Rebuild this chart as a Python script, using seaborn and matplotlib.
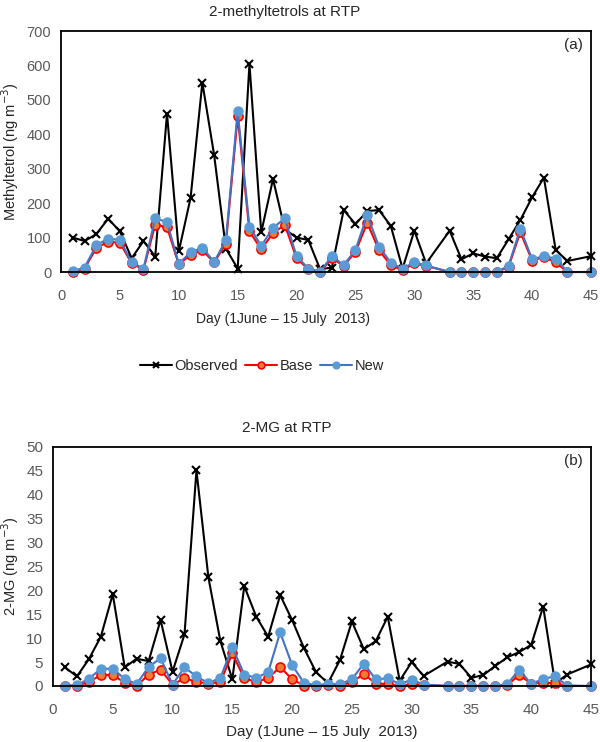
import matplotlib
matplotlib.use('Agg')
import matplotlib.pyplot as plt
import seaborn as sns

# days sampled (no data on day 32 and 44)
days = list(range(1, 32)) + list(range(33, 44)) + [45]

# 2-methyltetrols (ng m-3)
obs_a = [100, 90, 110, 155, 118, 40, 90, 45, 460, 60, 215, 550, 340, 68, 10, 605,
         115, 270, 124, 100, 93, 8, 13, 180, 139, 177, 180, 134, 10, 120, 25,
         120, 37, 54, 45, 40, 95, 151, 217, 274, 64, 32, 46]
base_a = [0, 10, 70, 88, 85, 25, 7, 138, 130, 22, 50, 63, 28, 82, 452, 118,
          66, 113, 137, 40, 8, 0, 40, 18, 58, 143, 63, 20, 5, 25, 18,
          0, 0, 0, 0, 0, 15, 116, 33, 44, 28, 0, 0]
new_a = [2, 13, 78, 97, 93, 28, 10, 156, 145, 24, 57, 71, 29, 93, 467, 131,
         76, 128, 156, 46, 10, 1, 46, 20, 64, 165, 74, 27, 10, 28, 19,
         0, 0, 0, 0, 0, 18, 126, 37, 46, 39, 0, 0]

# 2-MG (ng m-3)
obs_b = [3.9, 2.0, 5.6, 10.3, 19.2, 3.9, 5.7, 5.2, 13.8, 3.0, 10.8, 45.1, 22.7, 9.4, 1.4, 20.9,
         14.5, 10.3, 19.0, 13.8, 7.9, 2.9, 0.6, 5.4, 13.5, 7.7, 9.4, 14.5, 1.1, 5.0, 2.1,
         5.1, 4.6, 1.7, 2.3, 4.2, 6.0, 7.1, 8.6, 16.6, 0.5, 2.4, 4.5]
base_b = [0, 0.1, 0.8, 2.3, 2.3, 0.7, 0, 2.4, 3.4, 0.3, 1.6, 0.9, 0.5, 0.8, 6.8, 1.6,
          0.9, 1.6, 4.0, 1.4, 0.1, 0, 0.3, 0.1, 0.8, 2.5, 0.5, 0.4, 0, 0.4, 0.2,
          0, 0, 0, 0, 0, 0.2, 2.3, 0.5, 0.7, 0.6, 0, 0]
new_b = [0, 0.2, 1.5, 3.6, 3.6, 1.5, 0.4, 4.0, 5.8, 0.3, 3.9, 2.0, 0.6, 1.7, 8.1, 2.4,
         1.7, 2.9, 11.2, 4.4, 0.6, 0.2, 0.4, 0.4, 1.4, 4.7, 1.4, 1.6, 0.4, 1.3, 0.3,
         0, 0, 0, 0, 0, 0.4, 3.4, 0.4, 1.5, 2.0, 0.1, 0]

sns.set_style('white')
plt.rcParams['font.family'] = ['Liberation Sans', 'DejaVu Sans']

fig = plt.figure(figsize=(6, 7.42), dpi=100)
ax_a = fig.add_axes([0.1017, 0.6334, 0.8833, 0.3248])
ax_b = fig.add_axes([0.0883, 0.0755, 0.8967, 0.3221])


def draw(ax, obs, base, new, tick_size):
    sns.lineplot(x=days, y=obs, ax=ax, color='black', marker='x', markersize=6,
                 markeredgewidth=1.5, markeredgecolor='black', linewidth=1.5,
                 label='Observed', clip_on=False)
    sns.lineplot(x=days, y=base, ax=ax, color='#FF0000', marker='o', markersize=6.5,
                 markerfacecolor='#ED7D31', markeredgecolor='#FF0000', markeredgewidth=1.2,
                 linewidth=1.5, label='Base', clip_on=False)
    sns.lineplot(x=days, y=new, ax=ax, color='#4472C4', marker='o', markersize=6.5,
                 markerfacecolor='#5B9BD5', markeredgecolor='#5B9BD5', markeredgewidth=1.0,
                 linewidth=1.5, label='New', clip_on=False)
    ax.set_xlim(0, 45)
    ax.set_xticks(range(0, 46, 5))
    ax.tick_params(axis='both', length=0, labelsize=tick_size, labelcolor='#595959')
    ax.tick_params(axis='x', pad=12)
    ax.tick_params(axis='y', pad=7)
    for s in ax.spines.values():
        s.set_color('black')
        s.set_linewidth(1.3)


draw(ax_a, obs_a, base_a, new_a, 10.5)
ax_a.set_ylim(0, 700)
ax_a.set_yticks(range(0, 701, 100))
ax_a.set_ylabel('Methyltetrol (ng m$^{-3}$)', fontsize=10.5)
ax_a.yaxis.set_label_coords((21 - 61) / 530, 0.5)
ax_a.set_xlabel('Day (1June – 15 July  2013)', fontsize=10)
ax_a.xaxis.set_label_coords((283 - 61) / 530, -(312 - 272) / 241)
ax_a.text(0.985, 0.97, '(a)', transform=ax_a.transAxes, ha='right', va='top', fontsize=11)
ax_a.legend(loc='center', bbox_to_anchor=((262 - 61) / 530, -(366 - 272) / 241), ncol=3,
            frameon=False, fontsize=10.5, handlelength=2.2, handletextpad=0.15,
            columnspacing=0.5, markerscale=0.75)

draw(ax_b, obs_b, base_b, new_b, 11)
ax_b.set_ylim(0, 50)
ax_b.set_yticks(range(0, 51, 5))
ax_b.set_ylabel('2-MG (ng m$^{-3}$)', fontsize=10.5)
ax_b.yaxis.set_label_coords((21 - 53) / 538, 0.5)
ax_b.set_xlabel('Day (1June – 15 July  2013)', fontsize=11)
ax_b.xaxis.set_label_coords(0.5, -(725 - 686) / 239)
ax_b.text(0.985, 0.97, '(b)', transform=ax_b.transAxes, ha='right', va='top', fontsize=11)
ax_b.get_legend().remove()

fig.text(285 / 600, 1 - 12 / 742, '2-methyltetrols at RTP', ha='center', va='center', fontsize=11)
fig.text(287 / 600, 1 - 428 / 742, '2-MG at RTP', ha='center', va='center', fontsize=11)

fig.savefig('out.png', dpi=100)
